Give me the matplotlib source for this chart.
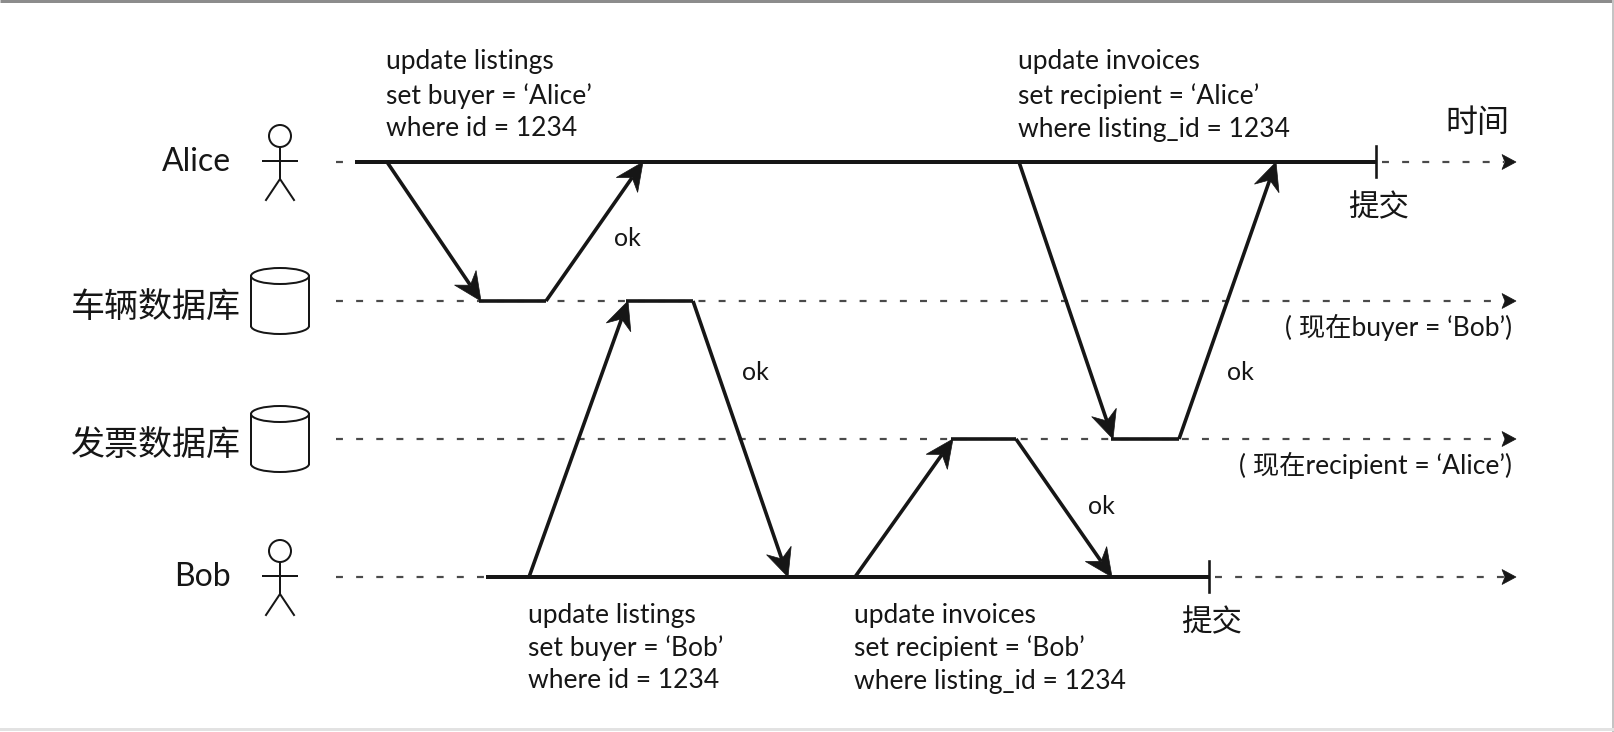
import numpy as np
import matplotlib
matplotlib.use("Agg")
import matplotlib.pyplot as plt
from matplotlib.patches import Polygon, Circle, Ellipse, Arc
from matplotlib import font_manager

# ---------------- data ----------------
lanes = ["Alice", "车辆数据库", "发票数据库", "Bob"]
lane_y = [162, 301, 439, 577]
lane_kind = ["person", "db", "db", "person"]

# sessions: lane index, solid start, commit time
session_lane = [0, 3]
session_start = [355, 486]
session_commit = [1376, 1209]

# request/response trapezoids: client lane, server lane, send, arrive, reply, return
req_client = [0, 3, 3, 0]
req_server = [1, 1, 2, 2]
req_send = [387, 529, 855, 1019]
req_arrive = [481, 628, 953, 1113]
req_reply = [546, 693, 1016, 1179]
req_return = [643, 788, 1112, 1276]
ok_frac = [0.45, 0.26, 0.49, 0.24]

req_text = [
    ["update listings", "set buyer = \u2018Alice\u2019", "where id = 1234"],
    ["update listings", "set buyer = \u2018Bob\u2019", "where id = 1234"],
    ["update invoices", "set recipient = \u2018Bob\u2019", "where listing_id = 1234"],
    ["update invoices", "set recipient = \u2018Alice\u2019", "where listing_id = 1234"],
]

db_notes = ["( 现在buyer = \u2018Bob\u2019)", "( 现在recipient = \u2018Alice\u2019)"]
db_note_lane = [1, 2]
commit_label = "提交"
time_label = "时间"
t_left = 336
t_end = 1516

# ---------------- style ----------------
names = {f.name for f in font_manager.fontManager.ttflist}
latin = "Lato" if "Lato" in names else "DejaVu Sans"
FAM = [latin, "Noto Sans CJK SC", "DejaVu Sans"]
plt.rcParams["font.family"] = FAM
plt.rcParams["lines.scale_dashes"] = False
INK = "#161616"
DASH = "#4a4a4a"
PX = 72 / 100.0  # points per pixel at dpi 100

fig = plt.figure(figsize=(16.15, 7.32), dpi=100)
ax = fig.add_axes([0, 0, 1, 1])
ax.set_xlim(0, 1615)
ax.set_ylim(732, 0)
ax.axis("off")
fig.patch.set_facecolor("white")

# faint page frame
ax.plot([0, 1615], [1, 1], color="#8c8c8c", lw=3 * PX, solid_capstyle="butt")
ax.plot([1613, 1613], [0, 732], color="#c4c4c4", lw=2 * PX)
ax.plot([0, 1615], [729, 729], color="#e2e2e2", lw=3 * PX)


def stealth(x0, y0, x1, y1, L=28, W=13, N=19, lw=3.6):
    d = np.array([x1 - x0, y1 - y0], float)
    d /= np.hypot(*d)
    n = np.array([-d[1], d[0]])
    tip = np.array([x1, y1], float)
    base = tip - L * d
    notch = tip - N * d
    ax.plot([x0, notch[0]], [y0, notch[1]], color=INK, lw=lw * PX,
            solid_capstyle="butt", zorder=4)
    ax.add_patch(Polygon([tip, base + W * n, notch, base - W * n],
                         closed=True, facecolor=INK, edgecolor=INK, lw=0.5, zorder=5))


def small_head(x, y):
    ax.add_patch(Polygon([[x, y], [x - 14, y - 7.5], [x - 11, y], [x - 14, y + 7.5]],
                         closed=True, facecolor=INK, edgecolor=INK, lw=0.5, zorder=5))


def dashed(x0, x1, y):
    ax.plot([x0, x1], [y, y], color=DASH, lw=2.2 * PX, dashes=(5, 9.5),
            dash_capstyle="butt", zorder=2)


# lanes: labels, icons, dashed baselines
for i, (name, y, kind) in enumerate(zip(lanes, lane_y, lane_kind)):
    if kind == "person":
        ax.text(231, y, name, ha="right", va="center", fontsize=23, color=INK)
        cx = 280
        ax.add_patch(Circle((cx, y - 26), 11, fill=False, ec=INK, lw=2 * PX))
        ax.plot([cx, cx], [y - 15, y + 17], color=INK, lw=2 * PX)
        ax.plot([cx - 17, cx + 17], [y - 1, y - 1], color=INK, lw=2 * PX)
        ax.plot([cx - 14, cx, cx + 14], [y + 38, y + 17, y + 38], color=INK, lw=2 * PX)
    else:
        ax.text(241, y + 7, name, ha="right", va="center", fontsize=24.5, color=INK)
        cx, w, top, bot, eh = 280, 58, y - 33, y + 33, 16
        ax.add_patch(Ellipse((cx, top + eh / 2), w, eh, fill=False, ec=INK, lw=2 * PX))
        ax.plot([cx - w / 2, cx - w / 2], [top + eh / 2, bot - eh / 2], color=INK, lw=2 * PX)
        ax.plot([cx + w / 2, cx + w / 2], [top + eh / 2, bot - eh / 2], color=INK, lw=2 * PX)
        ax.add_patch(Arc((cx, bot - eh / 2), w, eh, theta1=0, theta2=180,
                         ec=INK, lw=2 * PX))
        dashed(t_left, t_end - 12, y)
        small_head(t_end, y)

# sessions (solid lines, commit ticks, dashed continuation)
for li, s, c in zip(session_lane, session_start, session_commit):
    y = lane_y[li]
    dashed(t_left, s, y)
    ax.plot([s, c], [y, y], color=INK, lw=4 * PX, solid_capstyle="butt", zorder=3)
    ax.plot([c, c], [y - 16, y + 15], color=INK, lw=2.6 * PX, zorder=3)
    dashed(c + 6, t_end - 12, y)
    small_head(t_end, y)
    ax.text(c + 3, y + 45, commit_label, ha="center", va="center", fontsize=22, color=INK)

ax.text(t_end - 39, lane_y[0] - 39, time_label, ha="center", va="center",
        fontsize=23, color=INK)

# requests
for k in range(len(req_send)):
    yc = lane_y[req_client[k]]
    ys = lane_y[req_server[k]]
    stealth(req_send[k], yc, req_arrive[k], ys)
    ax.plot([req_arrive[k] - 2, req_reply[k]], [ys, ys], color=INK, lw=3.6 * PX,
            solid_capstyle="butt", zorder=4)
    stealth(req_reply[k], ys, req_return[k], yc)
    f = ok_frac[k]
    ox = req_reply[k] + f * (req_return[k] - req_reply[k]) + 38
    oy = ys + f * (yc - ys)
    ax.text(ox, oy, "ok", ha="center", va="center", fontsize=18, color=INK)
    lines = req_text[k]
    if yc < ys:
        ys_txt = [yc - 100, yc - 66, yc - 33]
    else:
        ys_txt = [yc + 38, yc + 71, yc + 104]
    for t, ty in zip(lines, ys_txt):
        ax.text(req_send[k] - 1, ty, t, ha="left", va="center", fontsize=19, color=INK)

# database state notes
for note, li in zip(db_notes, db_note_lane):
    ax.text(t_end - 4, lane_y[li] + 26, note, ha="right", va="center",
            fontsize=19, color=INK)

fig.savefig("out.png", dpi=100, facecolor="white")
